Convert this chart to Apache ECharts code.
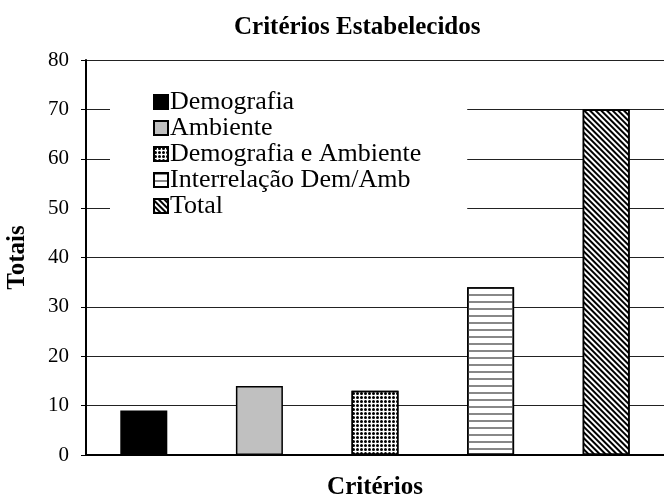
<!DOCTYPE html>
<html>
<head>
<meta charset="utf-8">
<script src="https://cdn.jsdelivr.net/npm/echarts@6/dist/echarts.min.js"></script>
<style>
  html, body { margin: 0; padding: 0; background: #fff; }
  #chart { width: 664px; height: 497px; }
</style>
</head>
<body>
<div id="chart"></div>
<script>
const categories = ['Demografia', 'Ambiente', 'Demografia e Ambiente', 'Interrelação Dem/Amb', 'Total'];
const totals = [9, 14, 13, 34, 70];
const yTicks = [0, 10, 20, 30, 40, 50, 60, 70, 80];

const font = 'Liberation Serif';

// one fill per criterion, like the old b/w print patterns
const fills = [
  { color: '#000' },
  { color: '#c0c0c0' },
  { color: '#fff', decal: { symbol: 'circle', color: '#000', dashArrayX: [3, 1], dashArrayY: [3, 1], symbolSize: 1 } },
  { color: '#fff', decal: { symbol: 'rect', color: '#888', dashArrayX: [1, 0], dashArrayY: [1.5, 4.5], symbolSize: 1 } },
  { color: '#fff', decal: { symbol: 'rect', color: '#000', dashArrayX: [1, 0], dashArrayY: [1.5, 1.5], symbolSize: 1, rotation: Math.PI / 4 } }
];

const chart = echarts.init(document.getElementById('chart'), null, { renderer: 'canvas' });

chart.setOption({
  animation: false,
  title: {
    text: 'Critérios Estabelecidos',
    left: 229,
    top: 10,
    textStyle: { fontFamily: font, fontSize: 25, fontWeight: 'bold', color: '#000' }
  },
  legend: {
    data: categories,
    orient: 'vertical',
    left: 110,
    top: 83,
    padding: [6, 46, 20, 43],
    backgroundColor: '#fff',
    itemWidth: 14,
    itemHeight: 14,
    itemGap: 0,
    icon: 'rect',
    textStyle: { fontFamily: font, fontSize: 26, color: '#000', lineHeight: 26, padding: [0, 0, 0, -3] }
  },
  grid: { left: 86, right: 0, top: 60, bottom: 42, outerBoundsMode: 'none' },
  xAxis: {
    type: 'category',
    data: categories,
    name: 'Critérios',
    nameLocation: 'middle',
    nameGap: 20,
    nameTextStyle: { fontFamily: font, fontSize: 25, fontWeight: 'bold', color: '#000' },
    axisLine: { lineStyle: { color: '#000', width: 2 } },
    axisTick: { show: false },
    axisLabel: { show: false }
  },
  yAxis: {
    type: 'value',
    min: yTicks[0],
    max: yTicks[yTicks.length - 1],
    interval: 10,
    name: 'Totais',
    nameLocation: 'middle',
    nameGap: 56,
    nameTextStyle: { fontFamily: font, fontSize: 25, fontWeight: 'bold', color: '#000' },
    axisLine: { show: true, lineStyle: { color: '#000', width: 2 } },
    axisTick: { show: true, length: 5, lineStyle: { color: '#000' } },
    axisLabel: { fontFamily: font, fontSize: 21, color: '#000', margin: 17 },
    splitLine: { lineStyle: { color: '#222', width: 1 } }
  },
  series: categories.map((name, i) => ({
    name,
    type: 'bar',
    barWidth: 47,
    barGap: '-100%',
    data: totals.map((v, j) => (j === i ? v : '-')),
    itemStyle: Object.assign({ borderColor: '#000', borderWidth: 1.5 }, fills[i])
  }))
});
</script>
</body>
</html>
